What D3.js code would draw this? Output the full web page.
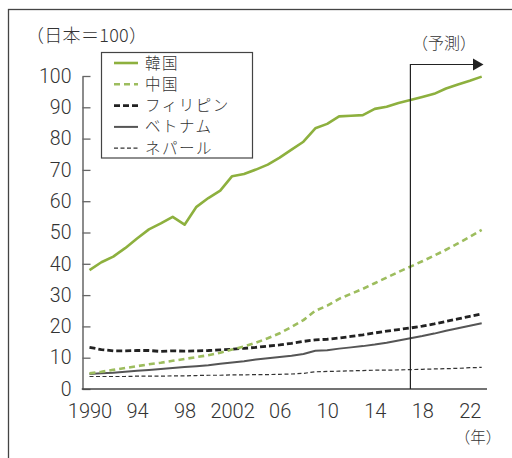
<!DOCTYPE html>
<html><head><meta charset="utf-8">
<script src="https://cdn.jsdelivr.net/npm/d3@7"></script>
<style>
html,body{margin:0;padding:0;background:#fff;overflow:hidden;}
svg{display:block;}
text{font-family:"Roboto","Liberation Sans","Noto Sans CJK JP",sans-serif;fill:#333;}
.jp{font-family:"Noto Sans CJK JP","Noto Sans",sans-serif;font-weight:300;}
.num{font-family:"Roboto","Liberation Sans",sans-serif;font-weight:300;}
</style></head><body>
<svg id="c" width="512" height="458"></svg>
<script>
const years = d3.range(1990, 2024);
const korea = [38,40.5,42.3,45,48.1,51,52.9,55,52.5,58.2,61,63.4,68,68.7,70.1,71.7,73.9,76.5,79,83.3,84.7,87.1,87.3,87.5,89.5,90.2,91.4,92.3,93.3,94.3,96,97.3,98.5,99.8];
const china = [5,5.5,6.1,6.7,7.3,7.9,8.4,9,9.6,10.2,10.8,11.6,12.6,13.6,14.8,16.2,17.8,19.8,22,25,26.6,28.8,30.4,32,33.8,35.6,37.4,39.1,40.8,42.6,44.5,46.5,48.6,50.8];
const philippines = [13.3,12.6,12.2,12.2,12.3,12.3,12,12.2,12.1,12.2,12.3,12.5,12.7,13,13.3,13.7,14.1,14.6,15.2,15.7,15.9,16.3,16.8,17.3,17.9,18.5,19,19.5,20.1,20.8,21.6,22.4,23.2,24];
const vietnam = [4.8,5,5.2,5.5,5.8,6.1,6.4,6.7,7,7.3,7.6,8.1,8.5,8.9,9.4,9.8,10.2,10.6,11.2,12.2,12.4,12.9,13.3,13.7,14.2,14.8,15.5,16.2,16.9,17.7,18.6,19.4,20.2,21];
const nepal = [4,4,4,4,4.1,4.1,4.1,4.2,4.2,4.3,4.4,4.4,4.5,4.5,4.6,4.6,4.7,4.8,5,5.5,5.6,5.7,5.8,5.9,6,6,6.1,6.2,6.3,6.4,6.5,6.6,6.8,6.9];
const seriesNames = ["韓国","中国","フィリピン","ベトナム","ネパール"];
const xTickYears = [1990,1994,1998,2002,2006,2010,2014,2018,2022];
const xTickLabels = ["1990","94","98","2002","06","10","14","18","22"];
const yTicks = [0,10,20,30,40,50,60,70,80,90,100];
const forecastYear = 2017;

const series = [
  {name:seriesNames[0], values:korea, color:"#8db03e", width:2.6, dash:null},
  {name:seriesNames[1], values:china, color:"#9dbd5e", width:2.6, dash:"6,4"},
  {name:seriesNames[2], values:philippines, color:"#222", width:2.8, dash:"6,3"},
  {name:seriesNames[3], values:vietnam, color:"#555", width:2, dash:null},
  {name:seriesNames[4], values:nepal, color:"#333", width:1.2, dash:"4,2.5"}
];

const svg = d3.select("#c");
// outer frame (right and bottom edges lie outside the picture)
svg.append("rect").attr("x",8.5).attr("y",9.5).attr("width",520).attr("height",470)
  .attr("fill","none").attr("stroke","#444").attr("stroke-width",1.3);

const x = d3.scaleLinear().domain([1990,2023]).range([89.5,481.7]);
const y = d3.scaleLinear().domain([0,100]).range([389,76]);
const axisX0 = 82.5, axisX1 = 487;

// y axis
const ya = svg.append("g").attr("transform",`translate(${axisX0},0)`)
  .call(d3.axisLeft(y).tickValues(yTicks).tickSizeInner(-8).tickSizeOuter(0).tickPadding(11));
ya.select(".domain").attr("stroke","#666").attr("stroke-width",1.5);
ya.selectAll(".tick line").attr("stroke","#666").attr("stroke-width",1.3);
ya.selectAll(".tick text").attr("class","num").attr("font-size",19.5).attr("fill","#333").attr("font-family",null);

// x axis
const xa = svg.append("g").attr("transform",`translate(0,389)`)
  .call(d3.axisBottom(x).tickValues(xTickYears).tickFormat((d,i)=>xTickLabels[i]).tickSize(0).tickPadding(15));
xa.select(".domain").remove();
xa.selectAll(".tick text").attr("class","num").attr("font-size",20).attr("fill","#333").attr("font-family",null);
svg.append("line").attr("x1",axisX0-0.75).attr("x2",axisX1).attr("y1",389).attr("y2",389)
  .attr("stroke","#444").attr("stroke-width",1.5);

// lines
const line = d3.line().x((d,i)=>x(years[i])).y(d=>y(d));
[...series].reverse().forEach(s=>{
  svg.append("path").datum(s.values).attr("d",line).attr("fill","none")
    .attr("stroke",s.color).attr("stroke-width",s.width)
    .attr("stroke-dasharray",s.dash).attr("stroke-linejoin","round");
});

// forecast marker
const fx = x(forecastYear);
svg.append("path").attr("d",`M${fx},389V64.5H474`).attr("fill","none").attr("stroke","#222").attr("stroke-width",1.2);
svg.append("path").attr("d",`M473,58.5L483.5,64.5L473,70.5Z`).attr("fill","#222");
svg.append("text").attr("class","jp").attr("x",444).attr("y",49).attr("text-anchor","middle")
  .attr("font-size",16).attr("fill","#333").text("（予測）");

// unit labels
svg.append("text").attr("class","jp").attr("x",26).attr("y",42).attr("font-size",18)
  .attr("letter-spacing",0.3).attr("fill","#333").text("（日本＝100）");
svg.append("text").attr("class","jp").attr("x",478).attr("y",443).attr("text-anchor","middle")
  .attr("font-size",15.5).attr("fill","#333").text("（年）");

// legend
const lg = svg.append("g");
lg.append("rect").attr("x",101.5).attr("y",52.5).attr("width",151).attr("height",105.5)
  .attr("fill","#fff").attr("stroke","#444").attr("stroke-width",1.2);
series.forEach((s,i)=>{
  const cy = 63 + i*21.3;
  lg.append("line").attr("x1",114).attr("x2",138).attr("y1",cy).attr("y2",cy)
    .attr("stroke",s.color).attr("stroke-width",s.width).attr("stroke-dasharray",s.dash);
  lg.append("text").attr("class","jp").attr("x",145).attr("y",cy).attr("dy","0.36em")
    .attr("font-size",15.5).attr("letter-spacing",1.5).attr("fill","#333").text(s.name);
});
</script></body></html>
